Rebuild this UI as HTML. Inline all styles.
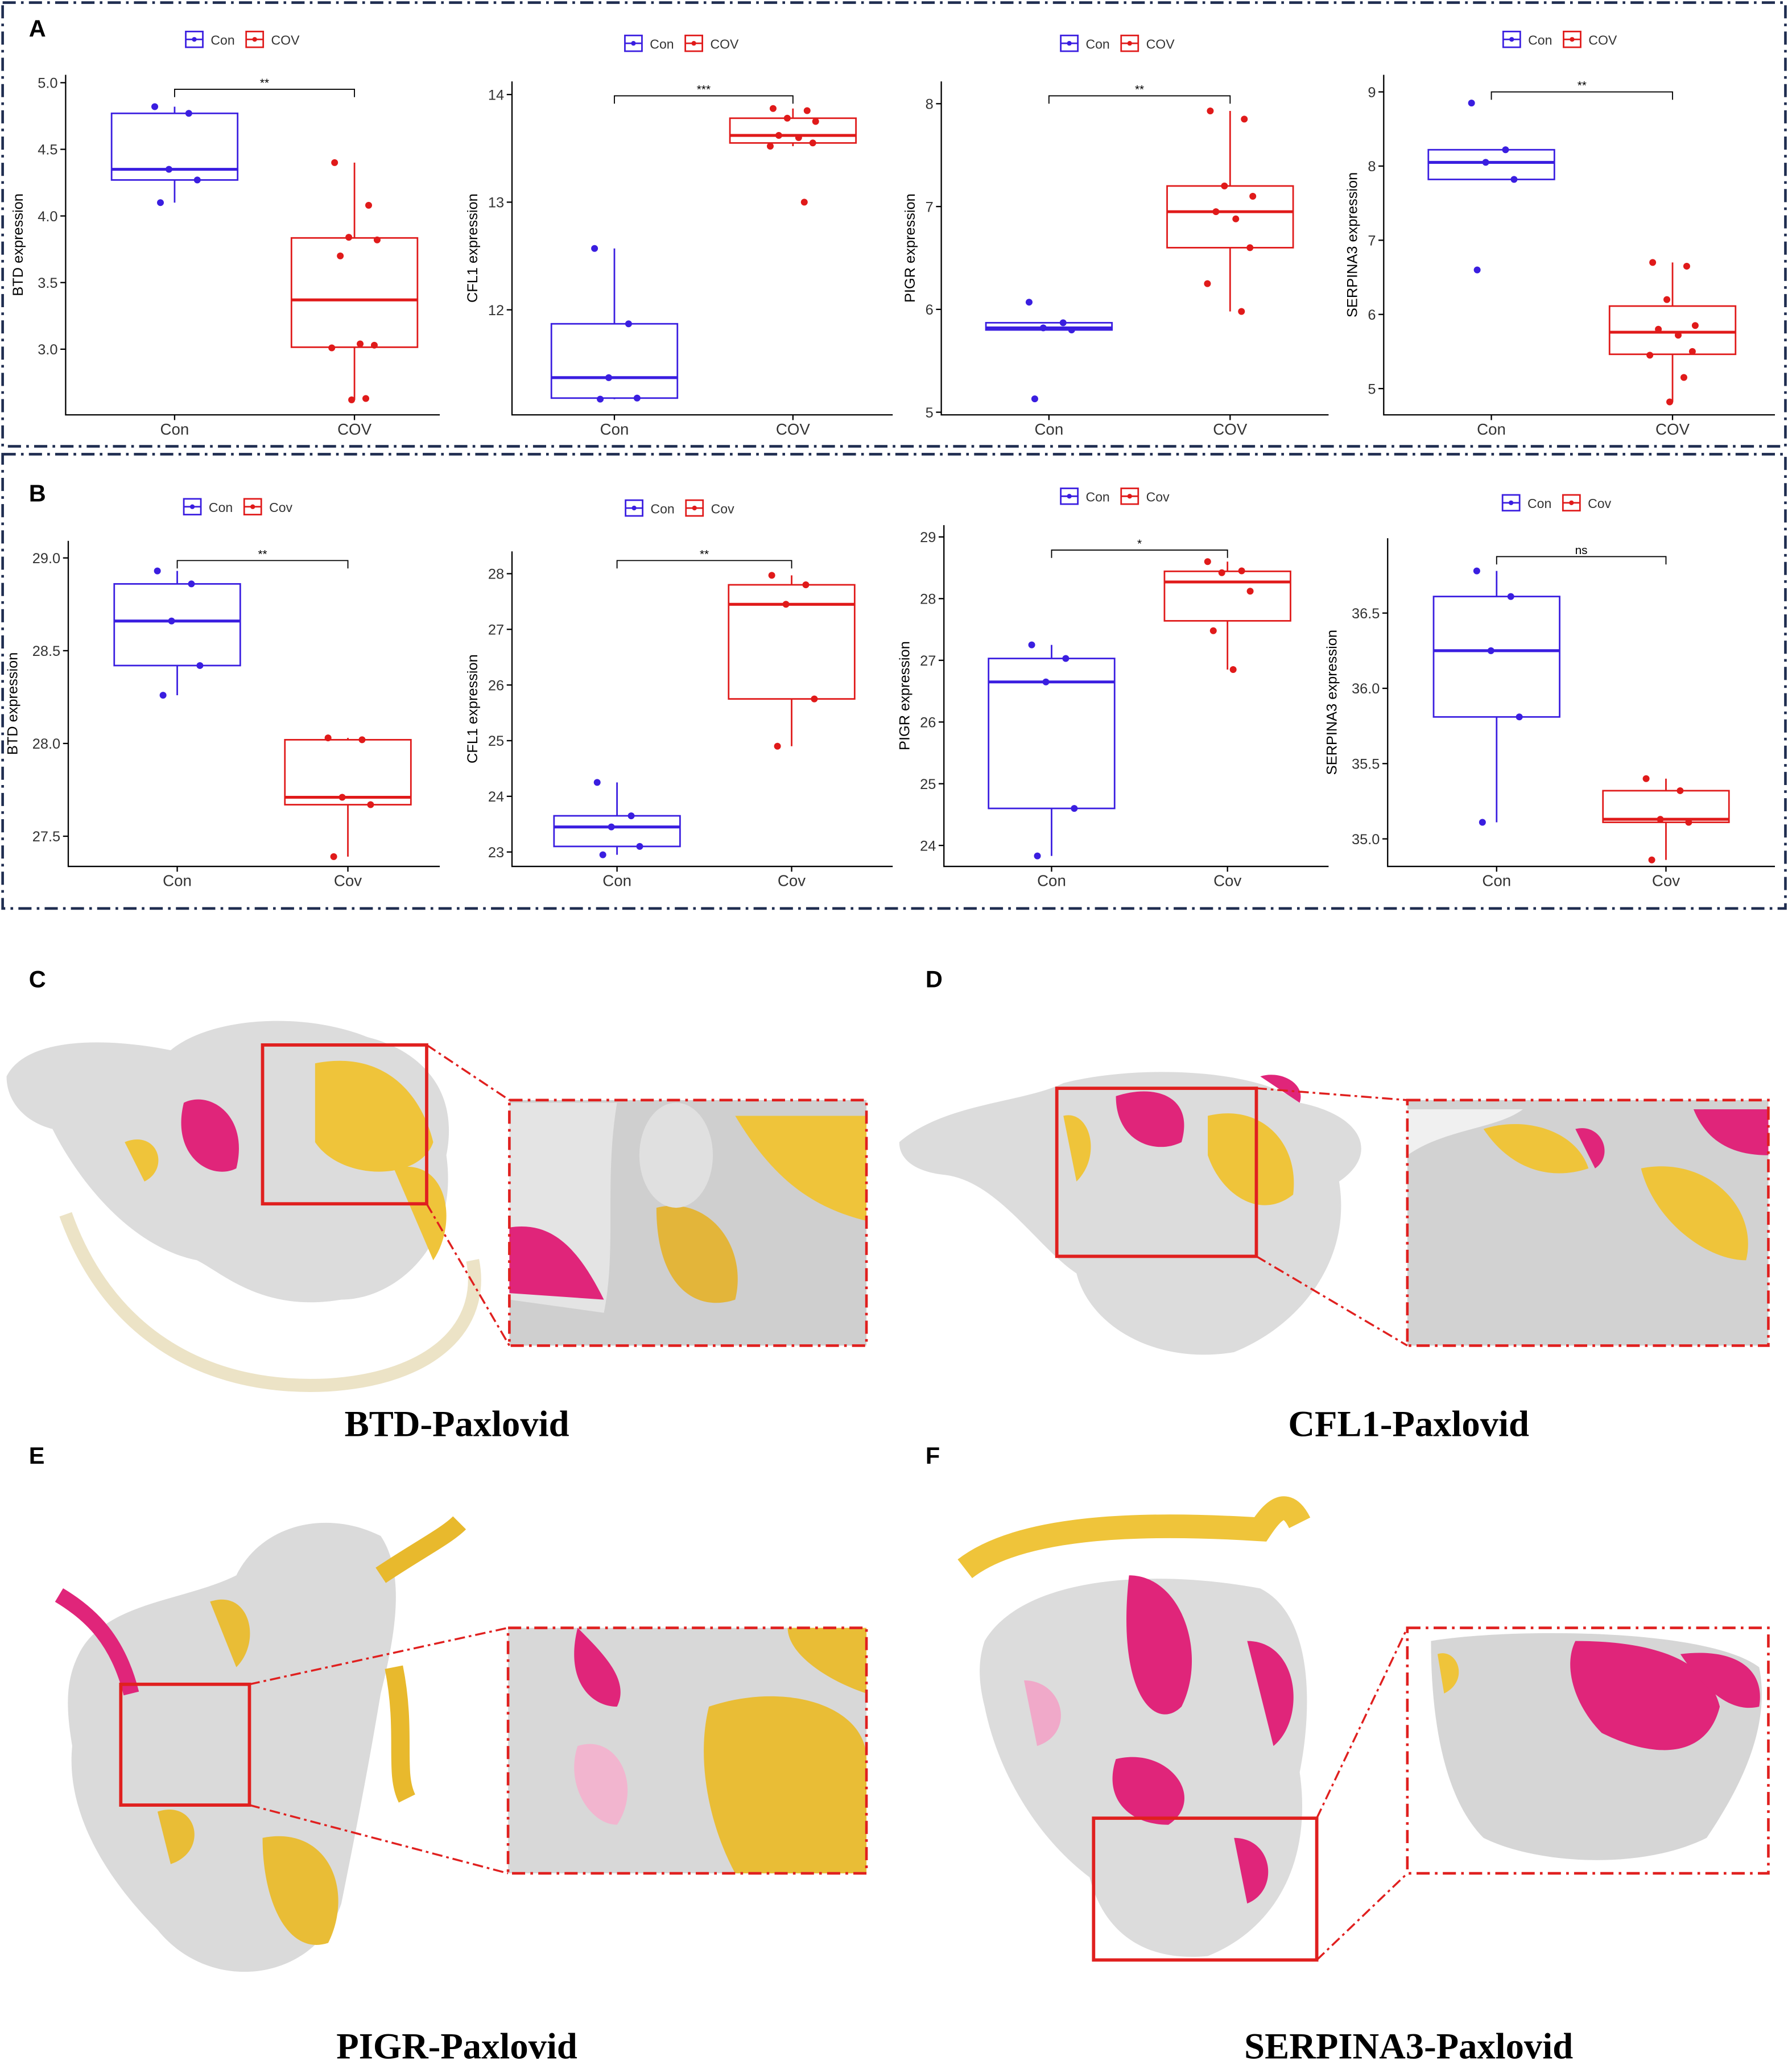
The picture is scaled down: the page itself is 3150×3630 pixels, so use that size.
<!DOCTYPE html>
<html><head><meta charset="utf-8"><style>
html,body{margin:0;padding:0;background:#fff}
svg{display:block}
text{font-family:"Liberation Sans",sans-serif}
.ttl{font-family:"Liberation Serif",serif;font-weight:bold;font-size:28px}
</style></head><body>
<svg id="fig" width="3150" height="3630" viewBox="0 0 1365 1573" xmlns="http://www.w3.org/2000/svg">
<rect x="2" y="2" width="1358" height="338" fill="none" stroke="#1f2d50" stroke-width="2" stroke-dasharray="10,4,2,4"/>
<rect x="2" y="346" width="1358" height="346" fill="none" stroke="#1f2d50" stroke-width="2" stroke-dasharray="10,4,2,4"/>
<text x="22" y="28" font-size="18" font-weight="bold">A</text>
<text x="22" y="382" font-size="18" font-weight="bold">B</text>
<g id="plots"></g>
<g id="proteins">
<text x="22" y="752" font-size="18" font-weight="bold">C</text>
<text x="705" y="752" font-size="18" font-weight="bold">D</text>
<text x="22" y="1115" font-size="18" font-weight="bold">E</text>
<text x="705" y="1115" font-size="18" font-weight="bold">F</text>
<!-- C -->
<g>
<path d="M5,820 C20,790 80,790 130,800 C160,775 230,770 280,790 C320,800 350,830 340,880 C350,950 300,990 260,990 C200,1000 170,970 150,960 C100,950 60,900 40,860 C20,855 5,840 5,820Z" fill="#dcdcdc"/>
<path d="M50,925 C80,1010 150,1060 250,1055 C330,1050 370,1010 360,960" fill="none" stroke="#ece3c6" stroke-width="10"/>
<path d="M140,840 C160,830 190,850 180,890 C160,900 130,880 140,840Z" fill="#e0257a"/>
<path d="M240,810 C290,800 320,830 330,870 C320,900 260,900 240,870Z" fill="#efc43a"/>
<path d="M95,870 C120,860 130,890 110,900Z" fill="#efc43a"/>
<path d="M300,890 C340,880 350,930 330,960Z" fill="#efc43a"/>
</g>
<!-- D -->
<g>
<path d="M685,870 C720,840 780,840 810,825 C870,810 960,815 990,840 C1040,850 1050,880 1020,900 C1030,960 990,1010 940,1030 C880,1040 830,1010 820,970 C790,950 760,900 720,895 C700,893 685,885 685,870Z" fill="#dcdcdc"/>
<path d="M850,835 C880,825 910,835 900,870 C880,880 850,870 850,835Z" fill="#e0257a"/>
<path d="M920,850 C960,840 990,870 985,910 C960,930 930,910 920,880Z" fill="#efc43a"/>
<path d="M810,850 C830,845 840,880 820,900Z" fill="#efc43a"/>
<path d="M960,820 C975,815 995,825 990,840 Z" fill="#e0257a"/>
</g>
<!-- E -->
<g>
<path d="M60,1260 C80,1220 140,1220 180,1200 C200,1160 250,1150 290,1170 C310,1200 300,1250 290,1290 C280,1350 270,1400 260,1450 C240,1510 160,1520 120,1470 C80,1430 50,1380 55,1330 C50,1300 50,1280 60,1260Z" fill="#dadada"/>
<path d="M290,1200 C320,1180 340,1170 350,1160 M300,1270 C310,1320 300,1350 310,1370" fill="none" stroke="#e8b92d" stroke-width="14"/>
<path d="M45,1215 C70,1230 90,1250 100,1290" fill="none" stroke="#e0257a" stroke-width="12"/>
<path d="M200,1400 C250,1390 270,1440 250,1480 C220,1490 200,1450 200,1400Z" fill="#e9bd36"/>
<path d="M160,1220 C190,1210 200,1250 180,1270Z" fill="#e9bd36"/>
<path d="M120,1380 C150,1370 160,1410 130,1420Z" fill="#e9bd36"/>
</g>
<!-- F -->
<g>
<path d="M735,1195 C780,1160 880,1160 960,1165 C970,1150 980,1140 990,1160" fill="none" stroke="#efc43a" stroke-width="18"/>
<path d="M750,1250 C780,1200 880,1195 960,1210 C1000,1230 1000,1300 990,1350 C1000,1420 970,1470 920,1490 C870,1495 840,1470 830,1430 C790,1400 760,1350 750,1300 C745,1280 745,1265 750,1250Z" fill="#dcdcdc"/>
<path d="M860,1200 C900,1200 920,1260 900,1300 C880,1320 850,1290 860,1200Z" fill="#e0257a"/>
<path d="M950,1250 C990,1250 995,1310 970,1330Z" fill="#e0257a"/>
<path d="M850,1340 C890,1330 920,1370 890,1390 C860,1390 840,1370 850,1340Z" fill="#e0257a"/>
<path d="M780,1280 C810,1280 820,1320 790,1330Z" fill="#f0a9c9"/>
<path d="M940,1400 C970,1400 975,1440 950,1450Z" fill="#e0257a"/>
</g>
<!-- insets -->
<g>
<rect x="388" y="838" width="272" height="187" fill="#cfcfcf"/>
<path d="M388,840 L470,840 C460,900 470,950 460,1000 L388,990Z" fill="#e4e4e4"/>
<path d="M388,935 C420,930 440,950 460,990 L388,985Z" fill="#e0257a"/>
<path d="M560,850 L660,850 L660,930 C620,920 590,900 560,850Z" fill="#efc43a"/>
<path d="M500,920 C540,910 570,950 560,990 C530,1000 500,980 500,920Z" fill="#e3b53a"/>
<ellipse cx="515" cy="880" rx="28" ry="40" fill="#e0e0e0"/>
<rect x="388" y="838" width="272" height="187" fill="none" stroke="#e0201f" stroke-width="2" stroke-dasharray="10,4,2,4"/>
</g>
<g>
<rect x="1072" y="838" width="275" height="187" fill="#d2d2d2"/>
<path d="M1072,880 C1100,860 1140,860 1160,845 L1072,845Z" fill="#f0f0f0"/>
<path d="M1130,860 C1160,850 1200,860 1210,890 C1180,900 1150,890 1130,860Z" fill="#efc43a"/>
<path d="M1290,845 L1347,845 L1347,880 C1320,880 1300,870 1290,845Z" fill="#e0257a"/>
<path d="M1250,890 C1300,880 1340,920 1330,960 C1300,960 1260,930 1250,890Z" fill="#efc43a"/>
<path d="M1200,860 C1220,855 1230,880 1215,890Z" fill="#e0257a"/>
<rect x="1072" y="838" width="275" height="187" fill="none" stroke="#e0201f" stroke-width="2" stroke-dasharray="10,4,2,4"/>
</g>
<g>
<rect x="387" y="1240" width="273" height="187" fill="#d8d8d8"/>
<path d="M440,1240 C460,1260 480,1280 470,1300 C450,1300 430,1280 440,1240Z" fill="#e0257a"/>
<path d="M540,1300 C600,1280 660,1300 660,1340 L660,1427 L560,1427 C540,1390 530,1340 540,1300Z" fill="#e9bd36"/>
<path d="M600,1240 L660,1240 L660,1290 C630,1280 600,1260 600,1240Z" fill="#e9bd36"/>
<path d="M440,1330 C470,1320 490,1360 470,1390 C450,1390 430,1360 440,1330Z" fill="#f2b5cf"/>
<rect x="387" y="1240" width="273" height="187" fill="none" stroke="#e0201f" stroke-width="2" stroke-dasharray="10,4,2,4"/>
</g>
<g>
<rect x="1072" y="1240" width="275" height="187" fill="#fff"/>
<path d="M1090,1250 C1150,1240 1300,1240 1340,1270 C1350,1320 1320,1370 1300,1400 C1250,1425 1170,1420 1130,1400 C1100,1370 1090,1310 1090,1250Z" fill="#d6d6d6"/>
<path d="M1200,1250 C1250,1250 1300,1260 1310,1300 C1300,1340 1260,1340 1220,1320 C1200,1300 1190,1270 1200,1250Z" fill="#e0257a"/>
<path d="M1280,1260 C1320,1255 1345,1270 1340,1300 C1320,1305 1300,1290 1280,1260Z" fill="#e0257a"/>
<path d="M1095,1260 C1110,1255 1120,1280 1100,1290Z" fill="#efc43a"/>
<rect x="1072" y="1240" width="275" height="187" fill="none" stroke="#e0201f" stroke-width="2" stroke-dasharray="10,4,2,4"/>
</g>
<!-- red selection rects and connectors -->
<g fill="none" stroke="#e0201f" stroke-width="2.5">
<rect x="200" y="796" width="125" height="121"/>
<rect x="805" y="829" width="152" height="128"/>
<rect x="92" y="1283" width="98" height="92"/>
<rect x="833" y="1385" width="170" height="108"/>
</g>
<g fill="none" stroke="#e0201f" stroke-width="1.5" stroke-dasharray="8,3,2,3">
<line x1="325" y1="796" x2="388" y2="838"/><line x1="325" y1="917" x2="388" y2="1025"/>
<line x1="957" y1="829" x2="1072" y2="838"/><line x1="957" y1="957" x2="1072" y2="1025"/>
<line x1="190" y1="1283" x2="387" y2="1240"/><line x1="190" y1="1375" x2="387" y2="1427"/>
<line x1="1003" y1="1385" x2="1072" y2="1240"/><line x1="1003" y1="1493" x2="1072" y2="1427"/>
</g>
<text class="ttl" x="348" y="1094" text-anchor="middle">BTD-Paxlovid</text>
<text class="ttl" x="1073" y="1094" text-anchor="middle">CFL1-Paxlovid</text>
<text class="ttl" x="348" y="1568" text-anchor="middle">PIGR-Paxlovid</text>
<text class="ttl" x="1073" y="1568" text-anchor="middle">SERPINA3-Paxlovid</text>
</g>
</svg>
<script>
// Data arrays
const groupsA = ["Con","COV"];
const groupsB = ["Con","Cov"];
const a1Con=[4.82,4.77,4.35,4.27,4.1], a1Cov=[4.4,4.08,3.84,3.82,3.7,3.04,3.03,3.01,2.63,2.62];
const a2Con=[12.57,11.87,11.37,11.18,11.17], a2Cov=[13.87,13.85,13.78,13.75,13.62,13.6,13.55,13.52,13.0];
const a3Con=[6.07,5.87,5.82,5.8,5.13], a3Cov=[7.93,7.85,7.2,7.1,6.95,6.88,6.6,6.25,5.98];
const a4Con=[8.85,8.22,8.05,7.82,6.6], a4Cov=[6.7,6.65,6.2,5.85,5.8,5.72,5.5,5.45,5.15,4.82];
const b1Con=[28.93,28.86,28.66,28.42,28.26], b1Cov=[28.03,28.02,27.71,27.67,27.39];
const b2Con=[24.25,23.65,23.45,23.1,22.95], b2Cov=[27.97,27.8,27.45,25.75,24.9];
const b3Con=[27.25,27.03,26.65,24.6,23.83], b3Cov=[28.6,28.45,28.42,28.12,27.48,26.85];
const b4Con=[36.78,36.61,36.25,35.81,35.11], b4Cov=[35.4,35.32,35.13,35.11,34.86];
const ticksA1=[3.0,3.5,4.0,4.5,5.0], ticksA2=[12,13,14], ticksA3=[5,6,7,8], ticksA4=[5,6,7,8,9];
const ticksB1=[27.5,28.0,28.5,29.0], ticksB2=[23,24,25,26,27,28], ticksB3=[24,25,26,27,28,29], ticksB4=[35.0,35.5,36.0,36.5];
const sigLabels=["**","***","**","**","**","**","*","ns"];

const NS="http://www.w3.org/2000/svg";
const root=document.getElementById('plots');
function el(tag,attrs,parent){const e=document.createElementNS(NS,tag);for(const k in attrs)e.setAttribute(k,attrs[k]);(parent||root).appendChild(e);return e;}
function quant(a,p){const s=[...a].sort((x,y)=>x-y);const h=(s.length-1)*p;const l=Math.floor(h);return s[l]+(h-l)*((s[Math.min(l+1,s.length-1)])-s[l]);}
const jit=[-0.35,0.25,-0.1,0.4,-0.25,0.1,0.35,-0.4,0.2,-0.05];
const plots=[
 {g:groupsA,con:a1Con,cov:a1Cov,t:ticksA1,ax:50,r:335,top:57,bot:316,v0:5.0,p0:63,v1:3.0,p1:266,cx:[133,270],lab:"BTD expression",leg:30,sig:68},
 {g:groupsA,con:a2Con,cov:a2Cov,t:ticksA2,ax:390,r:680,top:62,bot:316,v0:14,p0:72,v1:12,p1:236,cx:[468,604],lab:"CFL1 expression",leg:33,sig:73},
 {g:groupsA,con:a3Con,cov:a3Cov,t:ticksA3,ax:717,r:1012,top:62,bot:316,v0:8,p0:79,v1:5,p1:314,cx:[799,937],lab:"PIGR expression",leg:33,sig:73},
 {g:groupsA,con:a4Con,cov:a4Cov,t:ticksA4,ax:1054,r:1352,top:57,bot:316,v0:9,p0:70,v1:5,p1:296,cx:[1136,1274],lab:"SERPINA3 expression",leg:30,sig:70},
 {g:groupsB,con:b1Con,cov:b1Cov,t:ticksB1,ax:52,r:335,top:412,bot:660,v0:29.0,p0:425,v1:27.5,p1:637,cx:[135,265],lab:"BTD expression",leg:386,sig:427},
 {g:groupsB,con:b2Con,cov:b2Cov,t:ticksB2,ax:390,r:680,top:420,bot:660,v0:28,p0:437,v1:23,p1:649,cx:[470,603],lab:"CFL1 expression",leg:387,sig:427},
 {g:groupsB,con:b3Con,cov:b3Cov,t:ticksB3,ax:719,r:1012,top:400,bot:660,v0:29,p0:409,v1:24,p1:644,cx:[801,935],lab:"PIGR expression",leg:378,sig:419},
 {g:groupsB,con:b4Con,cov:b4Cov,t:ticksB4,ax:1057,r:1352,top:410,bot:660,v0:36.5,p0:467,v1:35.0,p1:639,cx:[1140,1269],lab:"SERPINA3 expression",leg:383,sig:424}
];
const cols=["#3a1ee0","#e01a1a"];
plots.forEach((P,i)=>{
 const g=el('g',{});
 
 
 const y=v=>P.p0+(v-P.v0)*(P.p1-P.p0)/(P.v1-P.v0);
 const ax=el('path',{d:`M${P.ax},${P.top}V${P.bot}H${P.r}`,fill:'none',stroke:'#000','stroke-width':1},g);
 
 
 const dec=P.t.some(v=>v%1!==0);
 let maxc=0;
 P.t.forEach(t=>{
  el('line',{x1:P.ax-4,x2:P.ax,y1:y(t),y2:y(t),stroke:'#000'},g);
  const tx=el('text',{x:P.ax-6,y:y(t)+4,'font-size':11,'text-anchor':'end',fill:'#333'},g);
  tx.textContent=dec?t.toFixed(1):String(t);
  maxc=Math.max(maxc,tx.textContent.length);
  
  
 });
 const off=14+6.2*maxc;
 const yl=el('text',{x:0,y:0,'font-size':11,'text-anchor':'middle',transform:`translate(${P.ax-off},${(P.top+P.bot)/2}) rotate(-90)`},g);
 yl.textContent=P.lab;
 
 
 [P.con,P.cov].forEach((d,k)=>{
  const cx=P.cx[k],c=cols[k],w=48;
  el('line',{x1:cx,x2:cx,y1:P.bot,y2:P.bot+4,stroke:'#000'},g);
  const xl=el('text',{x:cx,y:P.bot+15,'font-size':12,'text-anchor':'middle',fill:'#333'},g);
  xl.textContent=P.g[k];
  
  
  const q1=quant(d,.25),q2=quant(d,.5),q3=quant(d,.75),iqr=q3-q1;
  const lo=Math.min(...d.filter(v=>v>=q1-1.5*iqr)),hi=Math.max(...d.filter(v=>v<=q3+1.5*iqr));
  el('line',{x1:cx,x2:cx,y1:y(hi),y2:y(q3),stroke:c,'stroke-width':1.2},g);
  el('line',{x1:cx,x2:cx,y1:y(q1),y2:y(lo),stroke:c,'stroke-width':1.2},g);
  const b=el('rect',{x:cx-w,y:y(q3),width:2*w,height:Math.max(1,y(q1)-y(q3)),fill:'none',stroke:c,'stroke-width':1.2},g);
  
  
  el('line',{x1:cx-w,x2:cx+w,y1:y(q2),y2:y(q2),stroke:c,'stroke-width':2.2},g);
  d.forEach((v,j)=>{
   const p=el('circle',{cx:cx+jit[j%jit.length]*w*0.9,cy:y(v),r:2.6,fill:c},g);
   
   
  });
 });
 el('path',{d:`M${P.cx[0]},${P.sig+6}V${P.sig}H${P.cx[1]}V${P.sig+6}`,fill:'none',stroke:'#000','stroke-width':0.8},g);
 const s=el('text',{x:(P.cx[0]+P.cx[1])/2,y:P.sig-2,'font-size':9,'text-anchor':'middle'},g);
 s.textContent=sigLabels[i];
 
 
 const lx=(P.cx[0]+P.cx[1])/2-60;
 const lg=el('g',{},g);
 
 
 [0,1].forEach(k=>{
  const x0=lx+k*46;
  el('rect',{x:x0,y:P.leg-6,width:13,height:12,fill:'none',stroke:cols[k],'stroke-width':1.2},lg);
  el('line',{x1:x0,x2:x0+13,y1:P.leg,y2:P.leg,stroke:cols[k],'stroke-width':1.2},lg);
  el('circle',{cx:x0+6.5,cy:P.leg,r:1.8,fill:cols[k]},lg);
  const t=el('text',{x:x0+19,y:P.leg+4,'font-size':10,fill:'#333'},lg);
  t.textContent=P.g[k];
  
  
 });
});
</script>
</body></html>
